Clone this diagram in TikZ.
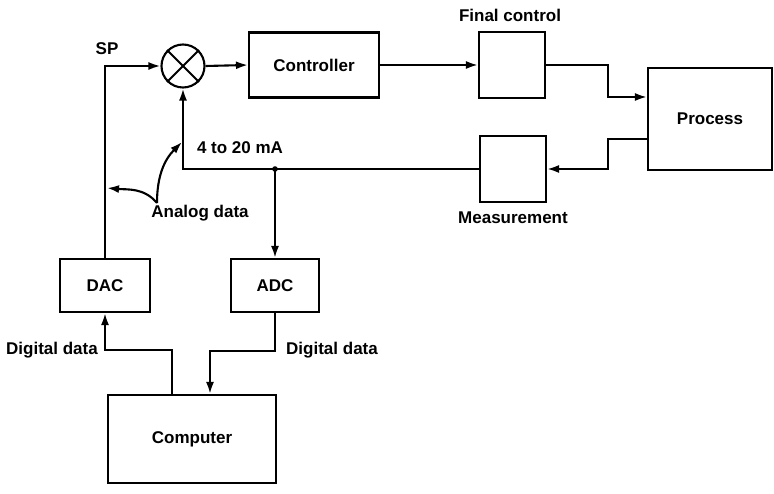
\documentclass[tikz,border=0pt]{standalone}
\usepackage{fontspec}
\setmainfont{Liberation Sans}
\usetikzlibrary{arrows.meta,calc}
\begin{document}
\begin{tikzpicture}[x=1pt,y=-1pt,
  every node/.style={font=\fontsize{17}{20}\selectfont\bfseries},
  line/.style={line width=2.1pt},
  arr/.style={line width=2.1pt,-{Latex[length=12pt,width=8pt]}},
  blk/.style={draw,line width=2.1pt,rectangle,inner sep=0pt},
  lbl/.style={inner sep=1pt}]
\useasboundingbox (0,0) rectangle (774,494);
% blocks
\node[draw,line width=2.1pt,circle,minimum size=43pt,inner sep=0pt] (sum) at (183,66) {};
\draw[line] (sum.north west) -- (sum.south east);
\draw[line] (sum.north east) -- (sum.south west);
\node[blk,minimum width=130pt,minimum height=65pt] (ctrl) at (314,65) {Controller};
\node[blk,minimum width=66pt,minimum height=66pt] (fc) at (512,65) {};
\node[blk,minimum width=124pt,minimum height=102pt] (proc) at (710,119) {Process};
\node[blk,minimum width=66pt,minimum height=66pt] (meas) at (513,169) {};
\node[blk,minimum width=90pt,minimum height=53pt] (dac) at (105,285.5) {DAC};
\node[blk,minimum width=88pt,minimum height=53pt] (adc) at (275,285.5) {ADC};
\node[blk,minimum width=168pt,minimum height=88pt] (comp) at (192,439) {Computer};
% labels
\node[lbl] (sp) at (107,49) {SP};
\node[lbl] (fcl) at (510,15) {Final control};
\node[lbl] (measl) at (513,218) {Measurement};
\node[lbl] (ma) at (240,148) {4 to 20 mA};
\node[lbl] (anl) at (200,213) {Analog data};
\node[lbl,anchor=east] (dl) at (99,350) {Digital data};
\node[lbl,anchor=west] (dr) at (285,350) {Digital data};
% helper coordinates
\coordinate (p1) at (608,97);
\coordinate (p2) at (608,139);
\coordinate (j) at (adc.north |- meas.west);
\coordinate (q1) at (210,351);
\coordinate (q2) at (172,350);
\coordinate (a0) at (157,203);
\coordinate (a1) at (182,142);
\coordinate (a2) at (107,188);
% connectors
\draw[arr] (dac.north) |- (sum.west);
\draw[arr] (sum.east) -- (ctrl.west);
\draw[arr] (ctrl.east) -- (fc.west);
\draw[arr] (fc.east) -| (p1) -- (proc.west |- p1);
\draw[arr] (proc.west |- p2) -- (p2) |- (meas.east);
\draw[arr] (meas.west) -| (sum.south);
\fill (j) circle (2.8pt);
\draw[arr] (j) -- (adc.north);
\draw[arr] (adc.south) |- (q1) -- (q1 |- comp.north);
\draw[arr] (q2 |- comp.north) -- (q2) -| (dac.south);
\draw[arr] (a0) to[out=90,in=225] (a1);
\draw[arr] (a0) to[out=130,in=-5] (a2);
\end{tikzpicture}
\end{document}
